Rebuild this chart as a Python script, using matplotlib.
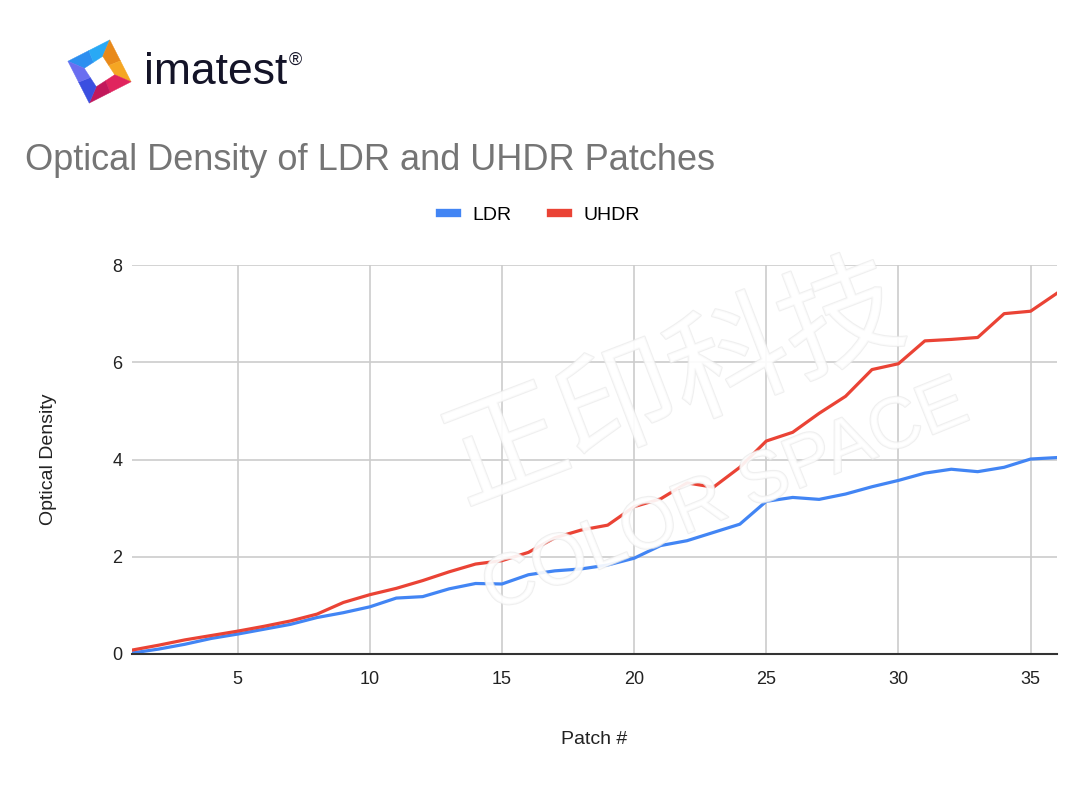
import matplotlib.pyplot as plt
import matplotlib.patheffects as pe
from matplotlib.patches import Polygon
import numpy as np

patches = list(range(1, 37))
ldr = [0.02, 0.10, 0.20, 0.32, 0.41, 0.51, 0.61, 0.75, 0.85, 0.97,
       1.15, 1.18, 1.34, 1.45, 1.44, 1.63, 1.71, 1.75, 1.83, 1.97,
       2.23, 2.33, 2.50, 2.67, 3.14, 3.22, 3.18, 3.29, 3.44, 3.57,
       3.72, 3.80, 3.75, 3.84, 4.01, 4.04]
uhdr = [0.08, 0.18, 0.29, 0.38, 0.47, 0.57, 0.68, 0.82, 1.06, 1.22,
        1.35, 1.51, 1.69, 1.85, 1.92, 2.09, 2.39, 2.55, 2.65, 3.03,
        3.19, 3.52, 3.43, 3.84, 4.38, 4.56, 4.95, 5.30, 5.85, 5.97,
        6.44, 6.47, 6.51, 7.00, 7.05, 7.42]

BLUE = "#4285F4"
RED = "#EA4335"
FONT = "Liberation Sans"

fig = plt.figure(figsize=(10.8, 8.1), dpi=100)
fig.patch.set_facecolor("white")

ax = fig.add_axes([0.1222, 0.1926, 0.8565, 0.4802])

ax.plot(patches, ldr, color=BLUE, lw=2.3, label="LDR", solid_joinstyle="round")
ax.plot(patches, uhdr, color=RED, lw=2.3, label="UHDR", solid_joinstyle="round")

ax.set_xlim(1, 36)
ax.set_ylim(0, 8)
ax.set_xticks([5, 10, 15, 20, 25, 30, 35])
ax.set_yticks([0, 2, 4, 6, 8])
ax.grid(True, color="#cccccc", lw=1.2)
ax.set_axisbelow(True)
for s in ["top", "right", "left"]:
    ax.spines[s].set_visible(False)
ax.spines["bottom"].set_color("#333333")
ax.spines["bottom"].set_linewidth(1.5)
ax.tick_params(length=0, labelsize=13, colors="#222222", pad=12)
ax.tick_params(axis="y", pad=7)
for lbl in ax.get_xticklabels() + ax.get_yticklabels():
    lbl.set_family(FONT)

ax.set_xlabel("Patch #", family=FONT, fontsize=14, color="#222222", labelpad=31)
ax.set_ylabel("Optical Density", family=FONT, fontsize=14, color="#222222", labelpad=40)

leg = fig.legend(loc="center", bbox_to_anchor=(0.5, 0.734), ncol=2, frameon=False,
                 prop={"family": FONT, "size": 14}, handlelength=0.9,
                 handletextpad=0.8, columnspacing=2.0)
for h in leg.get_lines():
    h.set_linewidth(6)

fig.text(0.023, 0.802, "Optical Density of LDR and UHDR Patches", family=FONT,
         fontsize=26, color="#757575", ha="left", va="center")

# faint watermark over the plot
wm = [pe.withStroke(linewidth=1.5, foreground="#e9e9e9")]
fig.text(0.625, 0.522, "正印科技", family=["Noto Sans CJK SC", "DejaVu Sans"],
         fontsize=86, color="white", alpha=0.7, rotation=21, ha="center",
         va="center", path_effects=wm, zorder=5)
fig.text(0.672, 0.385, "COLOR SPACE", family=FONT, fontsize=52, color="white",
         alpha=0.7, rotation=22, ha="center", va="center", path_effects=wm, zorder=5)

# imatest logo
cx, cy = 99.5, 71.5
ang = np.deg2rad(27)


def pt(u, v, r, extra=0.0):
    a = ang + extra
    x, y = u * r, v * r
    xr = x * np.cos(a) - y * np.sin(a)
    yr = x * np.sin(a) + y * np.cos(a)
    return ((cx + xr) / 1080, 1 - (cy - yr) / 810)


R, r = 23.5, 11
twist = np.deg2rad(6)
corners = [(-1, 1), (1, 1), (1, -1), (-1, -1)]
cols = [("#2d8ff0", "#29a9f5"), ("#e8891a", "#f5a623"),
        ("#e0245e", "#c2185b"), ("#3b4fe0", "#6a6ef0")]
for i in range(4):
    a, b = corners[i], corners[(i + 1) % 4]
    m = ((a[0] + b[0]) / 2, (a[1] + b[1]) / 2)
    halves = [(a, m), (m, b)]
    for (p, q), c in zip(halves, cols[i]):
        poly = [pt(p[0], p[1], R), pt(q[0], q[1], R),
                pt(q[0], q[1], r, twist), pt(p[0], p[1], r, twist)]
        fig.patches.append(Polygon(poly, closed=True, transform=fig.transFigure,
                                   facecolor=c, edgecolor=c, lw=0.3))
fig.text(0.133, 1 - 72 / 810, "imatest", family=FONT, fontsize=32, color="#141428",
         ha="left", va="center")
fig.text(0.267, 1 - 60 / 810, "®", family=FONT, fontsize=13, color="#141428",
         ha="left", va="center")

fig.savefig("out.png", dpi=100)
